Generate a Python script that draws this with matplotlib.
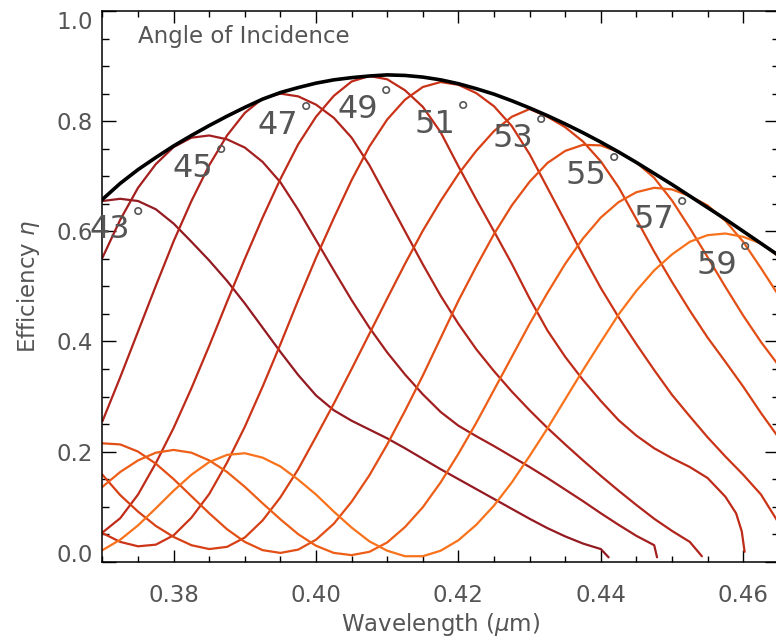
import matplotlib
matplotlib.use('Agg')
import matplotlib.pyplot as plt
from matplotlib.ticker import MultipleLocator, FormatStrFormatter

plt.rcParams['font.family'] = ['DejaVu Sans']
plt.rcParams['mathtext.fontset'] = 'dejavusans'

# wavelength grid (um) shared by every efficiency curve
wavelength = [0.3700, 0.3725, 0.3750, 0.3775, 0.3800, 0.3825, 0.3850, 0.3875,
              0.3900, 0.3925, 0.3950, 0.3975, 0.4000, 0.4025, 0.4050, 0.4075,
              0.4100, 0.4125, 0.4150, 0.4175, 0.4200, 0.4225, 0.4250, 0.4275,
              0.4300, 0.4325, 0.4350, 0.4375, 0.4400, 0.4425, 0.4450, 0.4475,
              0.4500, 0.4525, 0.4550, 0.4575, 0.4600, 0.4625, 0.4650]

angles = [43, 45, 47, 49, 51, 53, 55, 57, 59]

# diffraction efficiency for each angle of incidence
eta_43 = [0.655, 0.659, 0.655, 0.640, 0.614, 0.581, 0.547, 0.510, 0.469, 0.425,
          0.381, 0.339, 0.302, 0.275, 0.256, 0.240, 0.224, 0.206, 0.187, 0.168,
          0.150, 0.132, 0.114, 0.096, 0.078, 0.061, 0.046, 0.033, 0.023]
eta_45 = [0.552, 0.621, 0.679, 0.722, 0.753, 0.770, 0.774, 0.767, 0.752, 0.726,
          0.689, 0.639, 0.584, 0.529, 0.475, 0.425, 0.380, 0.340, 0.304, 0.272,
          0.247, 0.228, 0.210, 0.191, 0.172, 0.152, 0.131, 0.110, 0.088, 0.067,
          0.047, 0.030]
eta_47 = [0.255, 0.335, 0.418, 0.501, 0.582, 0.655, 0.720, 0.774, 0.815, 0.841,
          0.850, 0.845, 0.830, 0.806, 0.770, 0.720, 0.660, 0.600, 0.540, 0.483,
          0.432, 0.386, 0.346, 0.309, 0.275, 0.243, 0.213, 0.184, 0.156, 0.129,
          0.103, 0.078, 0.056, 0.036]
eta_49 = [0.053, 0.079, 0.122, 0.179, 0.243, 0.315, 0.392, 0.472, 0.550, 0.625,
          0.695, 0.758, 0.808, 0.846, 0.872, 0.882, 0.876, 0.856, 0.826, 0.780,
          0.718, 0.658, 0.600, 0.541, 0.478, 0.420, 0.372, 0.330, 0.292, 0.257,
          0.229, 0.206, 0.188, 0.172, 0.152, 0.118]
eta_51 = [0.052, 0.036, 0.028, 0.031, 0.048, 0.080, 0.123, 0.180, 0.245, 0.318,
          0.395, 0.475, 0.552, 0.624, 0.693, 0.754, 0.803, 0.839, 0.862, 0.871,
          0.866, 0.851, 0.827, 0.791, 0.740, 0.679, 0.618, 0.556, 0.497, 0.444,
          0.395, 0.348, 0.303, 0.264, 0.226, 0.191, 0.158, 0.122, 0.070]
eta_53 = [0.158, 0.121, 0.091, 0.065, 0.045, 0.030, 0.023, 0.027, 0.044, 0.075,
          0.117, 0.168, 0.227, 0.287, 0.350, 0.414, 0.478, 0.541, 0.601, 0.655,
          0.704, 0.746, 0.782, 0.808, 0.822, 0.808, 0.789, 0.763, 0.727, 0.680,
          0.622, 0.563, 0.508, 0.456, 0.407, 0.363, 0.318, 0.270, 0.225]
eta_55 = [0.215, 0.213, 0.200, 0.178, 0.150, 0.119, 0.088, 0.059, 0.036, 0.021,
          0.016, 0.022, 0.040, 0.069, 0.109, 0.157, 0.213, 0.274, 0.338, 0.406,
          0.474, 0.536, 0.595, 0.647, 0.690, 0.724, 0.746, 0.757, 0.756, 0.744,
          0.725, 0.697, 0.656, 0.606, 0.553, 0.499, 0.447, 0.399, 0.356]
eta_57 = [0.136, 0.163, 0.184, 0.198, 0.203, 0.198, 0.184, 0.163, 0.136, 0.106,
          0.077, 0.050, 0.029, 0.016, 0.012, 0.018, 0.035, 0.063, 0.099, 0.144,
          0.196, 0.252, 0.312, 0.372, 0.432, 0.488, 0.541, 0.587, 0.625, 0.653,
          0.671, 0.679, 0.676, 0.664, 0.647, 0.619, 0.581, 0.533, 0.483]
eta_59 = [0.021, 0.040, 0.066, 0.097, 0.129, 0.158, 0.181, 0.194, 0.197, 0.189,
          0.173, 0.149, 0.122, 0.091, 0.062, 0.037, 0.020, 0.010, 0.010, 0.020,
          0.039, 0.067, 0.102, 0.144, 0.192, 0.242, 0.295, 0.348, 0.399, 0.449,
          0.492, 0.529, 0.558, 0.581, 0.593, 0.596, 0.590, 0.578, 0.554]
curves = [eta_43, eta_45, eta_47, eta_49, eta_51, eta_53, eta_55, eta_57, eta_59]

# drop to the Rayleigh anomaly for the curves that end inside the range
tail_wl = [[0.4411], [0.4479], [0.4542], [0.4590, 0.4598, 0.4602],
           [], [], [], [], []]
tail_eta = [[0.008], [0.008], [0.010], [0.088, 0.055, 0.018],
            [], [], [], [], []]

# blaze envelope
envelope = [0.658, 0.687, 0.712, 0.734, 0.755, 0.774, 0.792, 0.809, 0.825, 0.840,
            0.852, 0.861, 0.869, 0.875, 0.879, 0.882, 0.884, 0.883, 0.880, 0.875,
            0.868, 0.859, 0.849, 0.837, 0.824, 0.810, 0.795, 0.779, 0.762, 0.744,
            0.725, 0.705, 0.685, 0.664, 0.643, 0.622, 0.600, 0.578, 0.556]

colors = ['#941a22', '#a31e1f', '#b1241c', '#bf2b19', '#cb3417', '#d74015',
          '#e24e15', '#ed5e17', '#f8721b']

# where the angle labels sit
label_wl = [0.37108, 0.38275, 0.39459, 0.4059, 0.41671, 0.4276, 0.43785, 0.44747, 0.45632]
label_eta = [0.609, 0.721, 0.799, 0.8275, 0.800, 0.775, 0.707, 0.627, 0.544]

text_color = '#555555'

fig = plt.figure(figsize=(7.76, 6.40), dpi=100)
ax = fig.add_axes([0.132, 0.1223, 0.8716, 0.8605])

for eta, col, tw, te in zip(curves, colors, tail_wl, tail_eta):
    xs = wavelength[:len(eta)] + tw
    ys = list(eta) + te
    ax.plot(xs, ys, color=col, lw=1.6, solid_capstyle='round',
            solid_joinstyle='round')

ax.plot(wavelength, envelope, color='black', lw=2.6, zorder=4,
        solid_joinstyle='round')

for ang, lx, ly in zip(angles, label_wl, label_eta):
    ax.text(lx, ly, str(ang), fontsize=23, color=text_color,
            ha='center', va='center_baseline', zorder=5)
    ax.annotate(r'$\circ$', xy=(lx, ly), xytext=(19, 12),
                textcoords='offset points', fontsize=19, color=text_color,
                ha='center', va='center', zorder=5)

ax.text(0.0526, 0.942, 'Angle of Incidence', transform=ax.transAxes,
        fontsize=16.5, color=text_color, ha='left', va='baseline')

ax.set_xlim(0.37, 0.465)
ax.set_ylim(0.0, 1.0)
ax.set_xticks([0.38, 0.40, 0.42, 0.44, 0.46])
ax.xaxis.set_major_formatter(FormatStrFormatter('%.2f'))
ax.xaxis.set_minor_locator(MultipleLocator(0.005))
ax.set_yticks([0.0, 0.2, 0.4, 0.6, 0.8, 1.0])
ax.yaxis.set_major_formatter(FormatStrFormatter('%.1f'))
ax.yaxis.set_minor_locator(MultipleLocator(0.05))

ax.tick_params(which='both', direction='in', top=True, right=True,
               color='black', width=1.0, labelsize=16.5, labelcolor=text_color)
ax.tick_params(axis='x', which='major', length=8.6, pad=16)
ax.tick_params(axis='x', which='minor', length=4.3)
ax.tick_params(axis='y', which='major', length=10, pad=6.8)
ax.tick_params(axis='y', which='minor', length=5)

yticks = ax.yaxis.get_major_ticks()
yticks[0].label1.set_verticalalignment('baseline')
yticks[-1].label1.set_verticalalignment('top')

for sp in ax.spines.values():
    sp.set_linewidth(1.1)

ax.set_xlabel(r'Wavelength ($\mu$m)', fontsize=16.5, color=text_color)
ax.set_ylabel(r'Efficiency $\eta$', fontsize=16.5, color=text_color)
ax.xaxis.set_label_coords(0.5, -0.0895)
ax.yaxis.set_label_coords(-0.0893, 0.5)

fig.savefig('out.png', dpi=100)
